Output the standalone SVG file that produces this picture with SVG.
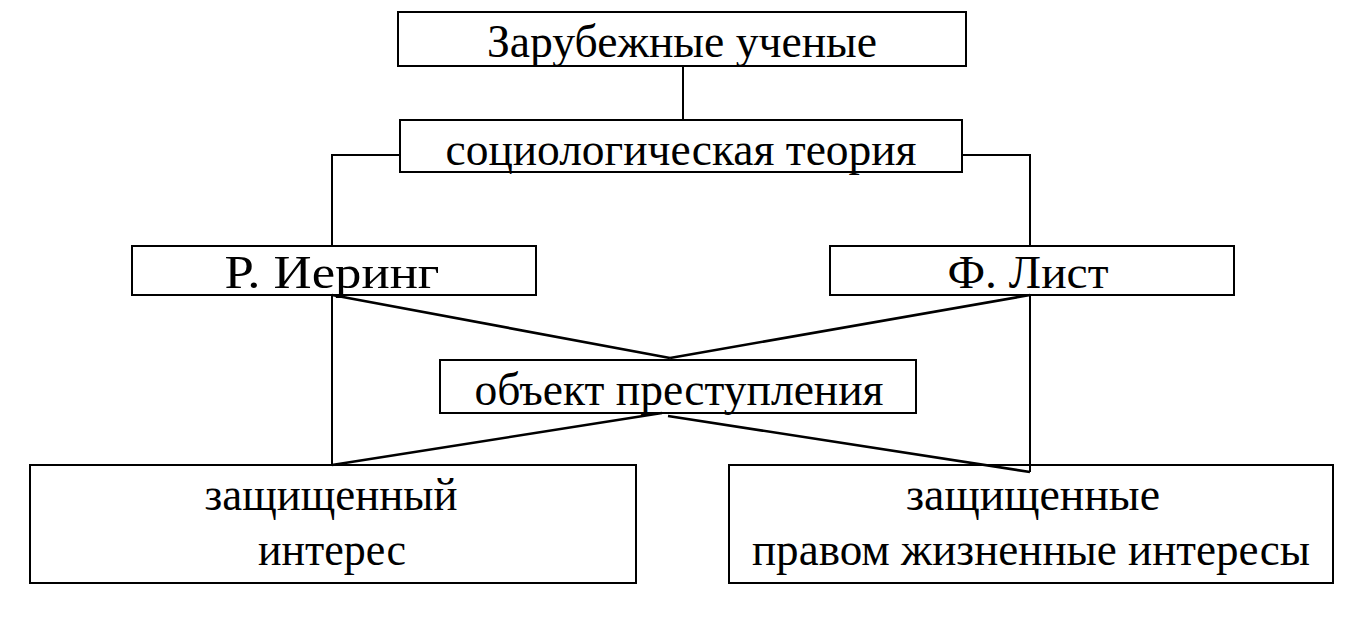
<svg xmlns="http://www.w3.org/2000/svg" width="1367" height="620" viewBox="0 0 1367 620">
<style>
  .box { fill: #fff; stroke: #000; stroke-width: 2; }
  .t { font-family: "Liberation Serif", "Times New Roman", serif; font-size: 46px; fill: #000; text-anchor: middle; }
  .ln { fill: none; stroke: #000; stroke-width: 2; }
  .dg { fill: none; stroke: #000; stroke-width: 2.6; }
</style>
<rect width="1367" height="620" fill="#fff"/>
<g id="node-zarubezhnye">
  <rect class="box" x="398" y="12" width="568" height="54"/>
  <text class="t" x="682" y="57" textLength="390" lengthAdjust="spacingAndGlyphs">Зарубежные ученые</text>
</g>
<g id="node-sociolog">
  <rect class="box" x="400" y="120" width="562" height="52"/>
  <text class="t" x="681" y="165" textLength="471" lengthAdjust="spacingAndGlyphs">социологическая теория</text>
</g>
<g id="node-iering">
  <rect class="box" x="132" y="246" width="404" height="49"/>
  <text class="t" x="332" y="288" textLength="215" lengthAdjust="spacingAndGlyphs">Р. Иеринг</text>
</g>
<g id="node-list">
  <rect class="box" x="830" y="246" width="404" height="49"/>
  <text class="t" x="1028" y="288" textLength="161" lengthAdjust="spacingAndGlyphs">Ф. Лист</text>
</g>
<g id="node-obekt">
  <rect class="box" x="440" y="360" width="476" height="53"/>
  <text class="t" x="679" y="405" textLength="409" lengthAdjust="spacingAndGlyphs">объект преступления</text>
</g>
<g id="node-zashch-interes">
  <rect class="box" x="30" y="465" width="606" height="118"/>
  <text class="t" x="331" y="510" textLength="253" lengthAdjust="spacingAndGlyphs">защищенный</text>
  <text class="t" x="332" y="565" textLength="148" lengthAdjust="spacingAndGlyphs">интерес</text>
</g>
<g id="node-zashch-pravom">
  <rect class="box" x="729" y="465" width="604" height="118"/>
  <text class="t" x="1033" y="510" textLength="254" lengthAdjust="spacingAndGlyphs">защищенные</text>
  <text class="t" x="1031" y="565" textLength="558" lengthAdjust="spacingAndGlyphs">правом жизненные интересы</text>
</g>
<g id="connectors">
  <line class="ln" x1="683" y1="66" x2="683" y2="120"/>
  <polyline class="ln" points="400,155 332,155 332,246"/>
  <polyline class="ln" points="962,155 1030,155 1030,246"/>
  <line class="ln" x1="332" y1="295" x2="332" y2="465"/>
  <line class="ln" x1="1030" y1="295" x2="1030" y2="472"/>
  <line class="dg" x1="332" y1="295" x2="670" y2="358"/>
  <line class="dg" x1="1030" y1="295" x2="670" y2="358"/>
  <line class="dg" x1="662" y1="413" x2="332" y2="465"/>
  <line class="dg" x1="668" y1="416" x2="1030" y2="472"/>
</g>
</svg>
